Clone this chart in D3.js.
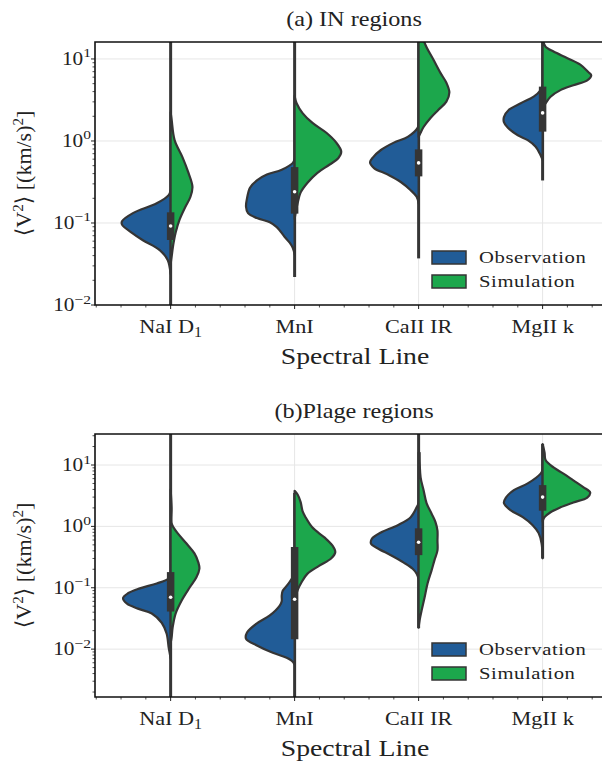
<!DOCTYPE html>
<html>
<head>
<meta charset="utf-8">
<script src="https://cdn.jsdelivr.net/npm/d3@7"></script>
<style>
  html, body { margin: 0; padding: 0; background: #fff; }
  svg { display: block; }
  text { font-family: "Liberation Serif", "DejaVu Serif", serif; fill: #222; }
</style>
</head>
<body>
<svg id="chart" width="602" height="762"></svg>
<script>
// ---- data -------------------------------------------------------------
const categories = ["NaI D1", "MnI", "CaII IR", "MgII k"];
const seriesNames = ["Observation", "Simulation"];
const seriesColors = ["#215c97", "#1ca74c"];
const yTickValues = [1e-2, 1e-1, 1e0, 1e1];

// Density profiles: [log10 <V^2>, relative half-width]
// Panel (a) IN regions
const inObs = [
  [[-0.60,0],[-0.66,0.04],[-0.76,0.28],[-0.88,0.76],[-0.98,0.98],[-1.02,0.98],[-1.12,0.78],[-1.21,0.56],[-1.33,0.22],[-1.45,0.06],[-1.54,0.02],[-1.62,0]],
  [[-0.22,0],[-0.27,0.04],[-0.35,0.26],[-0.41,0.56],[-0.48,0.76],[-0.57,0.90],[-0.70,0.96],[-0.80,0.98],[-0.88,0.94],[-0.94,0.76],[-0.99,0.50],[-1.05,0.36],[-1.17,0.20],[-1.24,0.10],[-1.30,0.04],[-1.38,0]],
  [[0.22,0],[0.16,0.02],[0.05,0.22],[-0.02,0.50],[-0.11,0.76],[-0.20,0.92],[-0.26,0.98],[-0.33,0.90],[-0.41,0.62],[-0.50,0.36],[-0.60,0.16],[-0.68,0.04],[-0.76,0]],
  [[0.68,0],[0.62,0.04],[0.54,0.18],[0.46,0.44],[0.38,0.68],[0.29,0.78],[0.23,0.78],[0.16,0.70],[0.07,0.50],[0.01,0.30],[-0.07,0.14],[-0.15,0.06],[-0.23,0]]
];
const inSim = [
  [[0.35,0],[0.26,0.02],[0.01,0.08],[-0.20,0.24],[-0.39,0.36],[-0.56,0.44],[-0.68,0.40],[-0.80,0.30],[-0.96,0.18],[-1.12,0.10],[-1.24,0.06],[-1.41,0.02],[-1.50,0]],
  [[0.55,0],[0.46,0.04],[0.34,0.16],[0.22,0.36],[0.10,0.64],[-0.02,0.84],[-0.13,0.94],[-0.21,0.88],[-0.29,0.70],[-0.39,0.46],[-0.51,0.26],[-0.63,0.12],[-0.76,0.06],[-0.88,0.02],[-0.95,0]],
  [[1.40,0.06],[1.20,0.12],[0.99,0.30],[0.83,0.44],[0.71,0.56],[0.59,0.62],[0.48,0.56],[0.38,0.40],[0.28,0.24],[0.17,0.10],[0.10,0.04],[0.05,0]],
  [[1.30,0],[1.20,0.02],[1.15,0.06],[1.09,0.22],[1.01,0.50],[0.93,0.76],[0.84,0.92],[0.80,0.98],[0.74,0.90],[0.68,0.62],[0.62,0.36],[0.54,0.16],[0.46,0.06],[0.41,0]]
];
// Panel (b) Plage regions
const plObs = [
  [[-0.80,0],[-0.85,0.04],[-0.93,0.28],[-1.01,0.62],[-1.09,0.86],[-1.17,0.96],[-1.26,0.88],[-1.34,0.66],[-1.42,0.38],[-1.57,0.18],[-1.75,0.08],[-1.97,0.04],[-2.06,0.02],[-2.15,0]],
  [[-0.78,0],[-0.83,0.04],[-0.95,0.14],[-1.05,0.24],[-1.13,0.26],[-1.22,0.26],[-1.29,0.30],[-1.45,0.50],[-1.58,0.76],[-1.73,0.96],[-1.83,0.98],[-1.94,0.76],[-2.06,0.44],[-2.14,0.16],[-2.19,0.06],[-2.25,0]],
  [[0.38,0],[0.31,0.04],[0.15,0.16],[0.02,0.42],[-0.10,0.76],[-0.20,0.94],[-0.28,0.96],[-0.36,0.82],[-0.47,0.56],[-0.59,0.30],[-0.69,0.12],[-0.77,0.04],[-0.85,0]],
  [[0.92,0],[0.86,0.04],[0.70,0.30],[0.59,0.58],[0.47,0.74],[0.38,0.78],[0.26,0.64],[0.15,0.40],[0.02,0.20],[-0.11,0.08],[-0.28,0.02],[-0.52,0]]
];
const plSim = [
  [[0.60,0],[0.30,0.02],[0.05,0.02],[-0.02,0.06],[-0.11,0.14],[-0.28,0.32],[-0.44,0.48],[-0.59,0.56],[-0.69,0.58],[-0.83,0.52],[-1.00,0.38],[-1.21,0.22],[-1.42,0.10],[-1.65,0.04],[-1.81,0.02],[-1.90,0]],
  [[0.58,0],[0.52,0.06],[0.40,0.12],[0.25,0.16],[0.15,0.22],[-0.02,0.36],[-0.18,0.60],[-0.31,0.76],[-0.42,0.82],[-0.52,0.74],[-0.64,0.50],[-0.77,0.26],[-0.91,0.14],[-1.04,0.06],[-1.16,0.02],[-1.25,0]],
  [[1.20,0.02],[0.80,0.04],[0.59,0.10],[0.38,0.16],[0.21,0.26],[0.07,0.34],[-0.07,0.38],[-0.23,0.38],[-0.39,0.38],[-0.55,0.32],[-0.72,0.26],[-0.93,0.18],[-1.16,0.12],[-1.37,0.06],[-1.53,0.02],[-1.65,0]],
  [[1.34,0],[1.20,0.04],[1.08,0.06],[0.96,0.22],[0.86,0.42],[0.75,0.62],[0.64,0.82],[0.55,0.96],[0.47,0.90],[0.39,0.62],[0.31,0.36],[0.23,0.16],[0.15,0.04],[0.08,0]]
];

// Box summaries per category: [q1, median, q3] and full extent [min, max]
const inBox = [[0.062,0.092,0.135],[0.13,0.24,0.48],[0.37,0.54,0.79],[1.3,2.2,4.6]];
const inRange = [[0.005,30],[0.022,30],[0.037,30],[0.33,30]];
const plBox = [[0.041,0.07,0.18],[0.0145,0.065,0.46],[0.34,0.55,0.93],[1.8,3.0,4.7]];
const plRange = [[0.001,60],[0.001,3.5],[0.022,60],[0.30,22]];

// ---- drawing ----------------------------------------------------------
const svg = d3.select("#chart");
const edge = "#353535";
const panels = [
  {title: "(a) IN regions", top: 42, bottom: 305, ydom: [0.01, 16.1], obs: inObs, sim: inSim, box: inBox, range: inRange},
  {title: "(b)Plage regions", top: 434, bottom: 697, ydom: [0.00166, 32], obs: plObs, sim: plSim, box: plBox, range: plRange}
];
const left = 95, right = 617;

// serif text, widened slightly to the proportions of a Computer Modern face
function label(parent, x, y, size, sx, anchor) {
  return parent.append("text")
    .attr("transform", `translate(${x},${y}) scale(${sx},1)`)
    .attr("text-anchor", anchor || "start")
    .style("font-size", size + "px");
}

panels.forEach((p, pi) => {
  const g = svg.append("g");
  const x = d3.scaleLinear().domain([-0.61, 3.6]).range([left, right]);
  const y = d3.scaleLog().domain(p.ydom).range([p.bottom, p.top]);
  const maxHalf = 0.4;

  const clipId = "clip" + pi;
  svg.append("clipPath").attr("id", clipId).append("rect")
    .attr("x", left).attr("y", p.top).attr("width", right - left).attr("height", p.bottom - p.top);

  // grid
  g.append("g").selectAll("line").data(yTickValues.filter(v => v >= p.ydom[0] && v <= p.ydom[1]))
    .join("line").attr("x1", left).attr("x2", right).attr("y1", d => y(d)).attr("y2", d => y(d))
    .attr("stroke", "#e6e6e6").attr("stroke-width", 1);
  g.append("g").selectAll("line").data(categories)
    .join("line").attr("x1", (d, i) => x(i)).attr("x2", (d, i) => x(i)).attr("y1", p.top).attr("y2", p.bottom)
    .attr("stroke", "#e6e6e6").attr("stroke-width", 1);

  const plot = g.append("g").attr("clip-path", `url(#${clipId})`);

  categories.forEach((c, i) => {
    const cx = x(i);
    const unit = x(1) - x(0);
    // whole-extent line
    plot.append("line").attr("x1", cx).attr("x2", cx)
      .attr("y1", y(p.range[i][0])).attr("y2", y(p.range[i][1]))
      .attr("stroke", edge).attr("stroke-width", 3);
    [p.obs[i], p.sim[i]].forEach((prof, s) => {
      const dir = s === 0 ? -1 : 1;
      const area = d3.area()
        .y(d => y(Math.pow(10, d[0])))
        .x0(cx)
        .x1(d => cx + dir * d[1] * maxHalf * unit)
        .curve(d3.curveCatmullRom.alpha(0.5));
      plot.append("path").attr("d", area(prof))
        .attr("fill", seriesColors[s]).attr("stroke", edge)
        .attr("stroke-width", 2.2).attr("stroke-linejoin", "round");
    });
    const b = p.box[i];
    plot.append("line").attr("x1", cx).attr("x2", cx)
      .attr("y1", y(b[0])).attr("y2", y(b[2]))
      .attr("stroke", edge).attr("stroke-width", 7.5);
    plot.append("circle").attr("cx", cx).attr("cy", y(b[1])).attr("r", 1.8).attr("fill", "#fff");
  });

  // axes
  const xMinor = d3.range(-0.6, 3.61, 0.2).filter(v => Math.abs(v - Math.round(v)) > 1e-6);
  g.append("g").selectAll("line").data(xMinor).join("line")
    .attr("x1", d => x(d)).attr("x2", d => x(d)).attr("y1", p.bottom).attr("y2", p.bottom + 2.5)
    .attr("stroke", "#222").attr("stroke-width", 0.8);
  g.append("g").selectAll("line").data(categories).join("line")
    .attr("x1", (d, i) => x(i)).attr("x2", (d, i) => x(i)).attr("y1", p.bottom).attr("y2", p.bottom + 4)
    .attr("stroke", "#222").attr("stroke-width", 1);

  const lo = Math.floor(Math.log10(p.ydom[0])), hi = Math.ceil(Math.log10(p.ydom[1]));
  const yMinor = [];
  for (let e = lo; e < hi; e++) for (let k = 2; k <= 9; k++) {
    const v = k * Math.pow(10, e);
    if (v >= p.ydom[0] && v <= p.ydom[1]) yMinor.push(v);
  }
  g.append("g").selectAll("line").data(yMinor).join("line")
    .attr("x1", left - 2.5).attr("x2", left).attr("y1", d => y(d)).attr("y2", d => y(d))
    .attr("stroke", "#222").attr("stroke-width", 0.8);
  const yMajor = yTickValues.filter(v => v >= p.ydom[0] && v <= p.ydom[1]);
  g.append("g").selectAll("line").data(yMajor).join("line")
    .attr("x1", left - 4).attr("x2", left).attr("y1", d => y(d)).attr("y2", d => y(d))
    .attr("stroke", "#222").attr("stroke-width", 1);

  // frame
  g.append("path").attr("d", `M${right},${p.top}H${left}V${p.bottom}H${right}`)
    .attr("fill", "none").attr("stroke", "#111").attr("stroke-width", 1.6);

  // y tick labels
  yMajor.forEach(v => {
    const t = label(g, 91, y(v) + 6, 18.5, 1.15, "end");
    const e = Math.round(Math.log10(v));
    t.append("tspan").text("10");
    t.append("tspan").attr("dy", -7.5).style("font-size", "13.5px").text(e < 0 ? "\u2212" + (-e) : String(e));
  });

  // x tick labels
  categories.forEach((d, i) => {
    const t = label(g, x(i), p.bottom + 28, 19.5, 1.14, "middle");
    const m = d.match(/^(.*D)(\d)$/);
    if (m) {
      t.append("tspan").text(m[1]);
      t.append("tspan").attr("dy", 4).style("font-size", "14px").text(m[2]);
    } else t.text(d);
  });

  // axis titles
  label(g, (left + right) / 2 - 1, p.bottom + 59, 23.5, 1.18, "middle").text("Spectral Line");
  label(g, (left + right) / 2 - 2, p.top - 16, 22, 1.1, "middle").text(p.title);

  const ylab = g.append("text")
    .attr("transform", `translate(31,${(p.top + p.bottom) / 2}) rotate(-90)`)
    .attr("text-anchor", "middle").style("font-size", "22px");
  ylab.append("tspan").text("\u27E8V");
  ylab.append("tspan").attr("dy", -8).style("font-size", "15px").text("2");
  ylab.append("tspan").attr("dy", 8).text("\u27E9 [(km/s)");
  ylab.append("tspan").attr("dy", -8).style("font-size", "15px").text("2");
  ylab.append("tspan").attr("dy", 8).text("]");

  // legend
  const lg = g.append("g").attr("transform", `translate(432,${p.bottom - 54})`);
  seriesNames.forEach((n, s) => {
    lg.append("rect").attr("x", 0).attr("y", s * 24).attr("width", 34).attr("height", 13)
      .attr("fill", seriesColors[s]).attr("stroke", edge).attr("stroke-width", 1.5);
    label(lg, 47, s * 24 + 12, 17.5, 1.18, "start").style("letter-spacing", "0.5px").text(n);
  });
});
</script>
</body>
</html>
